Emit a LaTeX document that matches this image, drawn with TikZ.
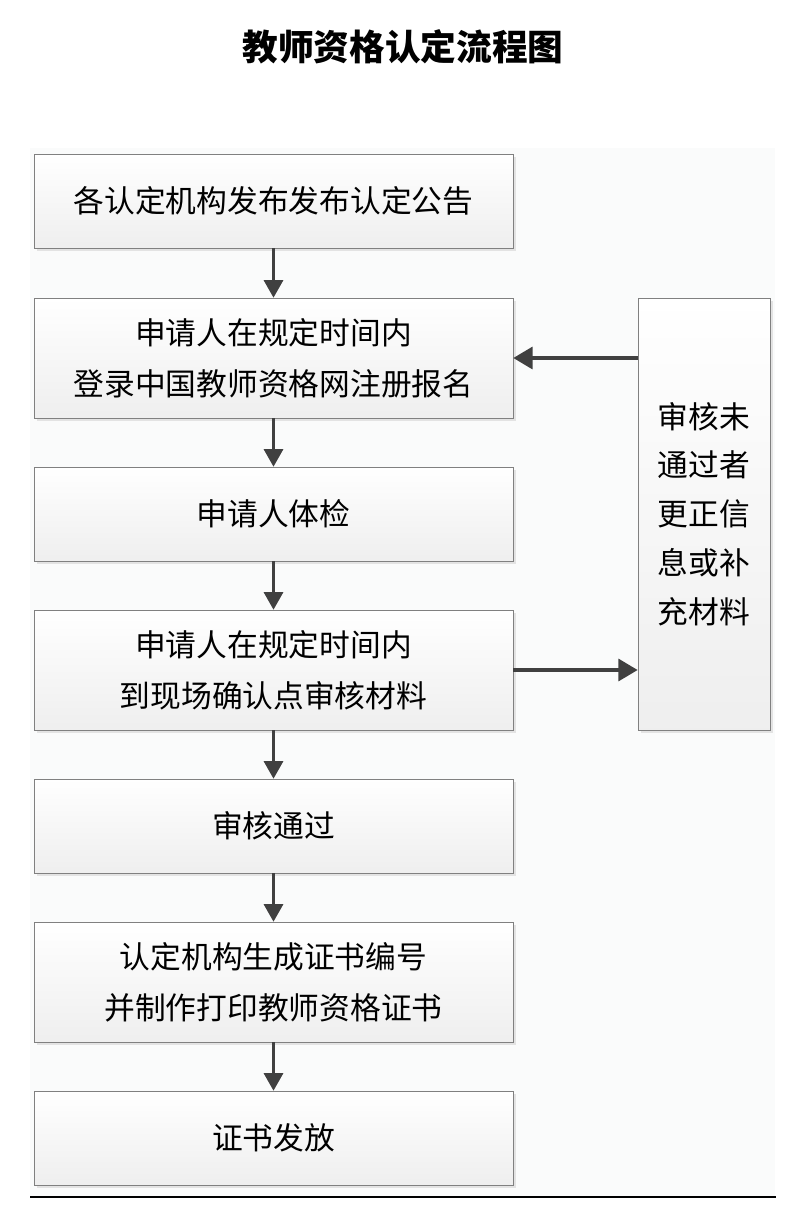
\documentclass[tikz,border=0pt]{standalone}
\usepackage{fontspec}
\usepackage{tikz}
\usetikzlibrary{arrows.meta,shadows,positioning}
\newfontfamily\cjk{Noto Sans CJK SC}
\definecolor{panel}{RGB}{250,251,251}
\definecolor{boxedge}{RGB}{128,128,128}
\definecolor{arrowgray}{RGB}{64,64,64}
\tikzstyle{proc}  = [rectangle, draw=boxedge, top color=white, bottom color=gray!13, minimum width=9.58cm, minimum height=1.88cm, align=center, font=\cjk\fontsize{17.5}{29}\selectfont, drop shadow={shadow xshift=0.06cm, shadow yshift=-0.06cm, fill=gray!22, opacity=1}]
\tikzstyle{tall}  = [minimum height=2.4cm]
\tikzstyle{arrow} = [draw=arrowgray, line width=1.3pt, -{Triangle[length=10pt,width=11pt]}]
\tikzstyle{side}  = [arrow, line width=2pt, -{Triangle[length=11pt,width=12.5pt]}]

\begin{document}
\begin{tikzpicture}[x=0.02cm, y=-0.02cm]
	\useasboundingbox (0,0) rectangle (806,1228);
	\fill[panel] (30,148) rectangle (775,1197);
	\draw[line width=1pt] (30,1197) -- (776,1197);

	\node (title) at (403,47) {\cjk\bfseries\fontsize{20.3}{24}\selectfont 教师资格认定流程图};

	\node[proc] (s1) at (273.5,201) {各认定机构发布发布认定公告};
	\node[proc, tall] (s2) at (273.5,358) {申请人在规定时间内\\登录中国教师资格网注册报名};
	\node[proc] (s3) at (273.5,514) {申请人体检};
	\node[proc, tall] (s4) at (273.5,670) {申请人在规定时间内\\到现场确认点审核材料};
	\node[proc] (s5) at (273.5,826) {审核通过};
	\node[proc, tall] (s6) at (273.5,982) {认定机构生成证书编号\\并制作打印教师资格证书};
	\node[proc] (s7) at (273.5,1138) {证书发放};

	\node[proc, minimum width=2.64cm, minimum height=8.64cm, font=\cjk\fontsize{17.5}{27.8}\selectfont] (fix) at (704,514) {审核未\\通过者\\更正信\\息或补\\充材料};

	\draw[arrow] (s1) -- (s2);
	\draw[arrow] (s2) -- (s3);
	\draw[arrow] (s3) -- (s4);
	\draw[arrow] (s4) -- (s5);
	\draw[arrow] (s5) -- (s6);
	\draw[arrow] (s6) -- (s7);

	\draw[side] (s4.east) -- (fix.west |- s4);
	\draw[side] (fix.west |- s2) -- (s2.east);
\end{tikzpicture}
\end{document}
